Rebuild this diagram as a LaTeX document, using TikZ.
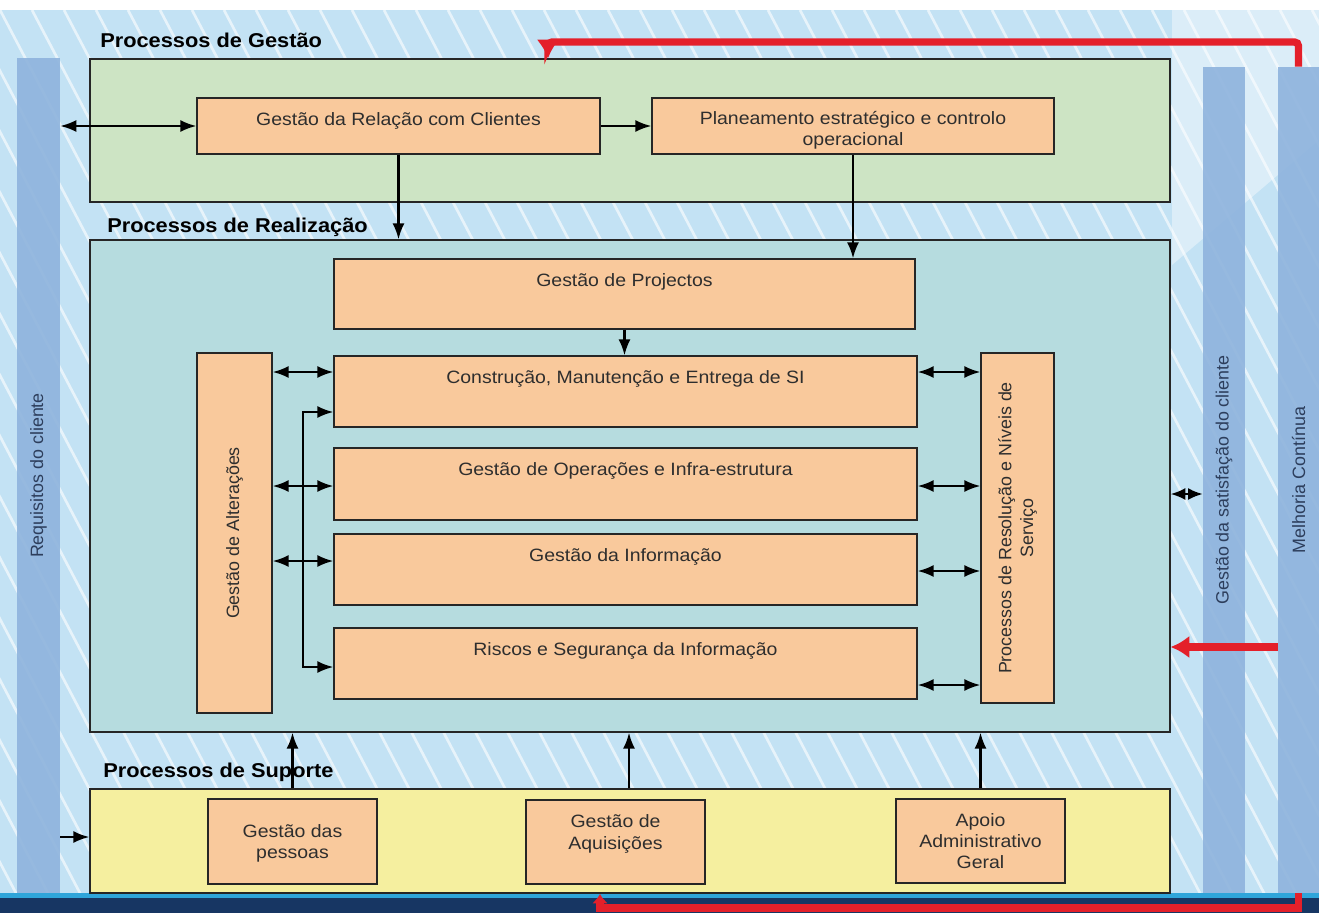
\documentclass[tikz,border=0pt]{standalone}
\usepackage{fontspec}
\setmainfont{Liberation Sans}[FakeStretch=1.09]
\newfontfamily\upsf{Liberation Sans}
\usetikzlibrary{fit,calc,arrows.meta}

\definecolor{bgblue}{HTML}{C3E2F4}
\definecolor{gestgreen}{HTML}{CDE4C4}
\definecolor{realteal}{HTML}{B6DCDF}
\definecolor{supyellow}{HTML}{F5EF9F}
\definecolor{boxorange}{HTML}{F9C99C}
\definecolor{colblue}{HTML}{8EB3DD}
\definecolor{navyband}{HTML}{173663}
\definecolor{stripcyan}{HTML}{2FA5DA}
\definecolor{redline}{HTML}{E4202A}
\definecolor{txtgray}{HTML}{2E2E2E}
\definecolor{coltxt}{HTML}{2D3E5C}

\tikzset{
  area/.style={draw=black!85, line width=0.9pt, inner sep=0pt},
  boxfont/.style={font=\fontsize{13.4}{16}\selectfont, text=txtgray},
  pbox/.style={area, fill=boxorange},
  col/.style={fill=colblue, fill opacity=0.9, inner sep=0pt},
  toptxt/.style={boxfont, anchor=north, align=center, inner sep=#1},
  toptxt/.default=11.5pt,
  vtxt/.style={rotate=90, align=center, inner sep=0pt,
    font=\upsf\fontsize{13.4}{16.3}\selectfont, text=txtgray},
  title/.style={font=\bfseries\fontsize{15}{18}\selectfont, anchor=west, inner sep=0pt},
  link/.style={-{Latex[length=12pt,width=9pt]}, line width=1.7pt},
  dlink/.style={{Latex[length=12pt,width=9pt]}-{Latex[length=12pt,width=9pt]}, line width=1.7pt},
  redlink/.style={draw=redline, line width=5.5pt, -{Latex[length=14pt,width=17pt]}}
}

\begin{document}
\begin{tikzpicture}[x=0.75pt,y=0.75pt,yscale=-1,xscale=1]
\useasboundingbox (0,0) rectangle (1319,913);

% background with the white stripes
\fill[white] (0,0) rectangle (1319,913);
\fill[bgblue] (0,10) rectangle (1319,895);
\begin{scope}
  \clip (0,10) rectangle (1319,895);
  \foreach \s in {-480,-448,...,1320}
    \draw[white, opacity=0.6, line width=2pt] (\s,10) -- ++(465,885);
\end{scope}
\fill[white, opacity=0.4] (1172,10) -- (1319,10) -- (1319,140) -- (1172,265) -- cycle;
\fill[stripcyan] (0,893) rectangle (1319,898);
\fill[navyband] (0,898) rectangle (1319,913);

%Shape: side columns
\node[col, fit={(17,58) (60,893)}] (req) {};
\node[col, fit={(1203,67) (1245,893)}] (sat) {};
\node[col, fit={(1278,67) (1319,893)}] (mel) {};
% Text Node
\node[vtxt, text=coltxt] (reqt) at (req.center) {Requisitos do cliente};
\node[vtxt, text=coltxt] (satt) at (sat.center) {Gestão da satisfação do cliente};
\node[vtxt, text=coltxt] (melt) at (mel.center) {Melhoria Contínua};

%Shape: process areas
\node[area, fill=gestgreen, fit={(90,59) (1170,202)}] (ges) {};
\node[area, fill=realteal, fit={(90,240) (1170,732)}] (real) {};
\node[area, fill=supyellow, fit={(90,789) (1170,893)}] (sup) {};
% Text Node
\node[title] (tges) at (100,40) {Processos de Gestão};
\node[title] (treal) at (107,227) {Processos de Realização};
\node[title] (tsup) at (103,772) {Processos de Suporte};

%Shape: Processos de Gestão
\node[pbox, fit={(197,98) (600,154)}] (grc) {};
\node[pbox, fit={(652,98) (1054,154)}] (plan) {};
% Text Node
\node[toptxt] (grct) at (grc.north) {Gestão da Relação com Clientes};
\node[toptxt=10pt] (plant) at (plan.north) {Planeamento estratégico e controlo\\operacional};

%Shape: Processos de Realização
\node[pbox, fit={(334,259) (915,329)}] (proj) {};
\node[pbox, fit={(334,356) (917,427)}] (con) {};
\node[pbox, fit={(334,448) (917,520)}] (ops) {};
\node[pbox, fit={(334,534) (917,605)}] (inf) {};
\node[pbox, fit={(334,628) (917,699)}] (ris) {};
\node[pbox, fit={(197,353) (272,713)}] (alt) {};
\node[pbox, fit={(981,353) (1054,703)}] (res) {};
% Text Node
\node[toptxt] (projt) at (proj.north) {Gestão de Projectos};
\node[toptxt] (cont) at (con.north) {Construção, Manutenção e Entrega de SI};
\node[toptxt] (opst) at (ops.north) {Gestão de Operações e Infra-estrutura};
\node[toptxt] (inft) at (inf.north) {Gestão da Informação};
\node[toptxt] (rist) at (ris.north) {Riscos e Segurança da Informação};
\node[vtxt] (altt) at (alt.center) {Gestão de Alterações};
\node[vtxt] (rest) at (res.center) {Processos de Resolução e Níveis de\\Serviço};

%Shape: Processos de Suporte
\node[pbox, fit={(208,799) (377,884)}] (pes) {};
\node[pbox, fit={(526,800) (705,884)}] (aq) {};
\node[pbox, fit={(896,799) (1065,883)}] (apo) {};
% Text Node
\node[toptxt=19.5pt] (pest) at (pes.north) {Gestão das\\pessoas};
\node[toptxt] (aqt) at (aq.north) {Gestão de\\Aquisições};
\node[toptxt=10.8pt] (apot) at (apo.north) {Apoio\\Administrativo\\Geral};

%Straight Lines: gestão
\draw[dlink] (grc.west -| req.east) -- (grc.west);
\draw[link] (grc.east) -- (plan.west);
\draw[link] (grc.south) -- (grc.south |- real.north);
\draw[link] (plan.south) -- (plan.south |- proj.north);
\draw[link] (proj.south) -- (proj.south |- con.north);

%Straight Lines: alterações
\draw[dlink] (alt.east |- 0,372) -- (con.west |- 0,372);
\draw[dlink] (alt.east |- 0,486) -- (ops.west |- 0,486);
\draw[dlink] (alt.east |- 0,561) -- (inf.west |- 0,561);
\coordinate (bus) at (303,412);
\draw[dlink] (con.west |- bus) -- (bus) |- (ris.west |- 0,667);

%Straight Lines: resolução
\draw[dlink] (con.east |- 0,372) -- (res.west |- 0,372);
\draw[dlink] (ops.east |- 0,486) -- (res.west |- 0,486);
\draw[dlink] (inf.east |- 0,571) -- (res.west |- 0,571);
\draw[dlink] (ris.east |- 0,685) -- (res.west |- 0,685);
\draw[{Latex[length=11pt,width=9pt]}-{Latex[length=11pt,width=9pt]}, line width=1.7pt]
  (real.east |- 0,494) -- (sat.west |- 0,494);

%Straight Lines: suporte
\draw[link] (pes.north |- sup.north) -- (pes.north |- real.south);
\draw[link] (sup.north -| 629,0) -- (real.south -| 629,0);
\draw[link] (apo.north |- sup.north) -- (apo.north |- real.south);
\draw[link] (req.east |- 0,837) -- (sup.west |- 0,837);

%Red lines: melhoria contínua
\coordinate (rtop) at (548,42);
\draw[redlink, rounded corners=3pt] (mel.north) |- (rtop) -- (rtop |- ges.north);
\draw[redlink] (mel.west |- 0,647) -- (real.east |- 0,647);
\coordinate (rbot) at (600,908);
\draw[redline, line width=5.5pt, -{Latex[length=7pt,width=12pt]}]
  (mel.south) -- (mel.south |- rbot) -- (rbot) -- ++(0,-14);

\end{tikzpicture}
\end{document}
